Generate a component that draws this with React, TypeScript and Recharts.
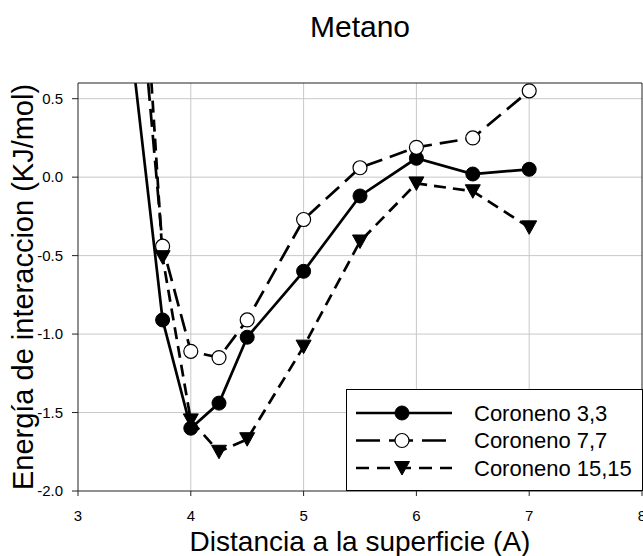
import React from 'react';
import { LineChart, Line, XAxis, YAxis, CartesianGrid, Legend, Label } from 'recharts';

const FONT = '"Liberation Sans", Arial, Helvetica, sans-serif';

const distances = [3.5, 3.75, 4, 4.25, 4.5, 5, 5.5, 6, 6.5, 7];
const coroneno33 = [0.66, -0.91, -1.6, -1.44, -1.02, -0.6, -0.12, 0.12, 0.02, 0.05];
const coroneno77 = [1.59, -0.44, -1.11, -1.15, -0.91, -0.27, 0.06, 0.19, 0.25, 0.55];
const coroneno1515 = [2.3, -0.51, -1.55, -1.75, -1.67, -1.08, -0.41, -0.04, -0.09, -0.32];

const xTicks = [3, 4, 5, 6, 7, 8];
const yTicks = [-2, -1.5, -1, -0.5, 0, 0.5];
const seriesNames = ['Coroneno 3,3', 'Coroneno 7,7', 'Coroneno 15,15'];

const data = distances.map((x, i) => ({
  x,
  c33: coroneno33[i],
  c77: coroneno77[i],
  c1515: coroneno1515[i],
}));

const R = 7;

const filledCircle = (cx: number, cy: number, key?: any) => (
  <circle key={key} cx={cx} cy={cy} r={R} fill="#000" stroke="#000" strokeWidth={1} />
);
const openCircle = (cx: number, cy: number, key?: any) => (
  <circle key={key} cx={cx} cy={cy} r={R} fill="#fff" stroke="#000" strokeWidth={1.2} />
);
const triangle = (cx: number, cy: number, key?: any) => (
  <path
    key={key}
    d={`M${cx - 7.5},${cy - 6.5} L${cx + 7.5},${cy - 6.5} L${cx},${cy + 7} Z`}
    fill="#000"
    stroke="#000"
    strokeWidth={1}
  />
);

const mkDot = (fn: any) => (props: any) => {
  const { cx, cy, index } = props;
  if (cx == null || cy == null) return <g key={`e${index}`} />;
  return <g key={`d${index}`}>{fn(cx, cy)}</g>;
};

const LegendBox = () => {
  const rows = [
    { name: seriesNames[0], dash: undefined, marker: filledCircle },
    { name: seriesNames[1], dash: '24 9', marker: openCircle },
    { name: seriesNames[2], dash: '13 8', marker: triangle },
  ];
  return (
    <svg width={297} height={102} style={{ display: 'block' }}>
      <rect x={0.5} y={0.5} width={296} height={101} fill="#fff" stroke="#000" strokeWidth={1} />
      {rows.map((r, i) => {
        const y = 24 + i * 27.5;
        return (
          <g key={i}>
            <line x1={10} x2={106} y1={y} y2={y} stroke="#000" strokeWidth={2.7} strokeDasharray={r.dash} />
            {r.marker(56, y)}
            <text x={128} y={y} dominantBaseline="central" fontFamily={FONT} fontSize={22} fill="#000">
              {r.name}
            </text>
          </g>
        );
      })}
    </svg>
  );
};

export default function App() {
  return (
    <div style={{ position: 'absolute', left: 0, top: 0, width: 643, height: 556, background: '#fff' }}>
      <LineChart
        width={643}
        height={556}
        data={data}
        margin={{ top: 82, right: 0, bottom: 0, left: 0 }}
        style={{ fontFamily: FONT }}
      >
        <CartesianGrid stroke="#c8c8c8" strokeWidth={1} verticalValues={[4, 5, 6, 7]} horizontalValues={[-1.5, -1, -0.5, 0, 0.5]} />
        <XAxis
          dataKey="x"
          type="number"
          domain={[3, 8]}
          ticks={xTicks}
          allowDataOverflow
          height={65}
          tickSize={5}
          tickMargin={14}
          tick={{ fontSize: 15, fill: '#000', fontFamily: FONT }}
          stroke="#222"
          interval={0}
        >
          <Label
            content={(p: any) => {
              const vb = p.viewBox || {};
              return (
                <text
                  x={(vb.x ?? 78) + (vb.width ?? 564) / 2}
                  y={551}
                  textAnchor="middle"
                  fontFamily={FONT}
                  fontSize={28}
                  fill="#000"
                >
                  Distancia a la superficie (A)
                </text>
              );
            }}
          />
        </XAxis>
        <XAxis xAxisId="top" orientation="top" type="number" domain={[3, 8]} tick={false} tickLine={false} height={1} stroke="#222">
          <Label
            content={(p: any) => {
              const vb = p.viewBox || {};
              return (
                <text
                  x={(vb.x ?? 78) + (vb.width ?? 564) / 2}
                  y={37}
                  textAnchor="middle"
                  fontFamily={FONT}
                  fontSize={30}
                  fill="#000"
                >
                  Metano
                </text>
              );
            }}
          />
        </XAxis>
        <YAxis
          type="number"
          domain={[-2, 0.6]}
          ticks={yTicks}
          allowDataOverflow
          width={78}
          tickSize={6}
          tickMargin={9}
          tickFormatter={(v: number) => v.toFixed(1)}
          tick={{ fontSize: 15, fill: '#000', fontFamily: FONT }}
          stroke="#222"
          interval={0}
        >
          <Label
            content={(p: any) => {
              const vb = p.viewBox || {};
              const cy = (vb.y ?? 83) + (vb.height ?? 408) / 2;
              return (
                <text
                  x={33}
                  y={cy}
                  transform={`rotate(-90 33 ${cy})`}
                  textAnchor="middle"
                  fontFamily={FONT}
                  fontSize={29}
                  fill="#000"
                >
                  Energía de interaccion (KJ/mol)
                </text>
              );
            }}
          />
        </YAxis>
        <YAxis yAxisId="right" orientation="right" type="number" domain={[-2, 0.6]} tick={false} tickLine={false} width={1} stroke="#222" />
        <Line
          dataKey="c33"
          name={seriesNames[0]}
          stroke="#000"
          strokeWidth={2.7}
          dot={mkDot(filledCircle)}
          activeDot={false}
          isAnimationActive={false}
        />
        <Line
          dataKey="c77"
          name={seriesNames[1]}
          stroke="#000"
          strokeWidth={2.7}
          strokeDasharray="18 8"
          dot={mkDot(openCircle)}
          activeDot={false}
          isAnimationActive={false}
        />
        <Line
          dataKey="c1515"
          name={seriesNames[2]}
          stroke="#000"
          strokeWidth={2.7}
          strokeDasharray="12 7"
          dot={mkDot(triangle)}
          activeDot={false}
          isAnimationActive={false}
        />
        <Legend
          layout="vertical"
          align="center"
          verticalAlign="middle"
          wrapperStyle={{ position: 'absolute', left: 346, top: 389, width: 297, height: 102 }}
          content={() => <LegendBox />}
        />
      </LineChart>
    </div>
  );
}
